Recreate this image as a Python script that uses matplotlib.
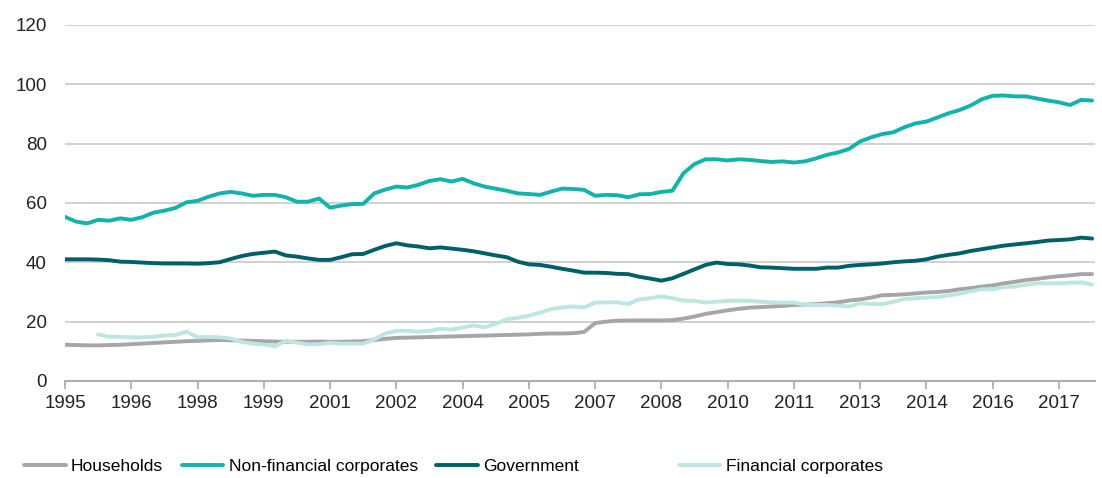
import matplotlib
matplotlib.use("Agg")
import matplotlib.pyplot as plt

plt.rcParams['font.family'] = ['Liberation Sans', 'DejaVu Sans']

# quarterly data, 1995Q1 - 2018Q2
households = [12.2, 12.1, 12.0, 12.0, 12.1, 12.2, 12.4, 12.6, 12.8, 13.0,
              13.2, 13.4, 13.5, 13.7, 13.8, 13.7, 13.6, 13.5, 13.4, 13.3,
              13.2, 13.2, 13.2, 13.3, 13.2, 13.2, 13.3, 13.4, 13.8, 14.2,
              14.5, 14.6, 14.7, 14.8, 14.9, 15.0, 15.1, 15.2, 15.3, 15.4,
              15.5, 15.6, 15.7, 15.9, 16.0, 16.0, 16.1, 16.5, 19.5, 20.0,
              20.3, 20.4, 20.4, 20.4, 20.4, 20.5, 21.0, 21.7, 22.6, 23.2,
              23.8, 24.3, 24.7, 24.9, 25.1, 25.3, 25.6, 25.7, 25.9, 26.2,
              26.5, 27.1, 27.5, 28.1, 28.9, 29.0, 29.2, 29.5, 29.8, 30.0,
              30.3, 30.9, 31.3, 31.8, 32.2, 32.9, 33.4, 34.0, 34.4, 34.9,
              35.3, 35.6, 36.0, 36.0]
non_financial = [55.3, 53.7, 53.1, 54.3, 54.0, 54.8, 54.3, 55.2, 56.7, 57.4,
                 58.3, 60.2, 60.7, 62.1, 63.2, 63.7, 63.2, 62.4, 62.7, 62.7,
                 61.9, 60.4, 60.4, 61.5, 58.4, 59.1, 59.6, 59.7, 63.2, 64.5,
                 65.5, 65.2, 66.1, 67.4, 68.0, 67.2, 68.1, 66.6, 65.5, 64.8,
                 64.1, 63.2, 63.0, 62.7, 63.8, 64.8, 64.7, 64.4, 62.4, 62.7,
                 62.6, 61.9, 62.9, 63.0, 63.7, 64.1, 70.0, 73.1, 74.7, 74.7,
                 74.3, 74.7, 74.5, 74.1, 73.8, 74.0, 73.6, 74.0, 75.0, 76.2,
                 77.0, 78.2, 80.7, 82.1, 83.2, 83.8, 85.5, 86.8, 87.4, 88.8,
                 90.2, 91.3, 92.8, 94.9, 96.1, 96.2, 95.9, 95.9, 95.2, 94.5,
                 93.9, 93.0, 94.7, 94.5]
government = [41.0, 41.0, 41.0, 40.9, 40.7, 40.2, 40.1, 39.9, 39.7, 39.6,
              39.6, 39.6, 39.5, 39.7, 40.0, 41.1, 42.1, 42.8, 43.2, 43.6,
              42.3, 41.9, 41.3, 40.8, 40.8, 41.7, 42.7, 42.8, 44.2, 45.5,
              46.4, 45.7, 45.3, 44.7, 45.0, 44.6, 44.2, 43.7, 43.0, 42.3,
              41.7, 40.2, 39.3, 39.1, 38.5, 37.8, 37.2, 36.5, 36.5, 36.4,
              36.1, 36.0, 35.1, 34.5, 33.8, 34.6, 36.1, 37.6, 39.1, 39.9,
              39.4, 39.3, 38.9, 38.3, 38.2, 38.0, 37.8, 37.8, 37.8, 38.2,
              38.2, 38.8, 39.1, 39.3, 39.6, 40.0, 40.3, 40.5, 41.0, 41.9,
              42.5, 43.0, 43.8, 44.4, 45.0, 45.6, 46.0, 46.4, 46.8, 47.3,
              47.5, 47.7, 48.3, 48.0]
financial = [None, None, None, 15.7, 14.9, 14.9, 14.7, 14.7, 14.9, 15.3,
             15.5, 16.6, 14.7, 14.9, 14.7, 14.3, 13.2, 12.6, 12.3, 11.7,
             13.5, 12.9, 12.3, 12.4, 12.9, 12.6, 12.6, 12.6, 14.0, 16.0,
             16.9, 16.9, 16.6, 16.9, 17.6, 17.3, 18.0, 18.7, 18.1, 19.2,
             20.8, 21.3, 22.0, 23.0, 24.2, 24.8, 25.1, 24.8, 26.4, 26.5,
             26.5, 25.9, 27.5, 27.9, 28.5, 27.9, 27.1, 27.0, 26.4, 26.7,
             27.0, 27.1, 27.0, 26.7, 26.5, 26.4, 26.4, 25.6, 25.6, 25.6,
             25.4, 25.1, 26.2, 25.9, 25.9, 26.7, 27.6, 27.9, 28.1, 28.3,
             28.8, 29.4, 30.2, 30.9, 30.9, 31.6, 31.8, 32.4, 32.9, 32.9,
             32.9, 33.1, 33.2, 32.5]

x = list(range(len(households)))
fin = [float('nan') if v is None else v for v in financial]

fig = plt.figure(figsize=(11.02, 4.78), dpi=100)
ax = fig.add_axes([0.059, 0.203, 0.935, 0.745])

lines = []
lines += ax.plot(x, households, color='#a6a6a6', lw=2.8, label='Households', solid_capstyle='round')
lines += ax.plot(x, non_financial, color='#12b3ab', lw=2.8, label='Non-financial corporates', solid_capstyle='round')
lines += ax.plot(x, government, color='#005f69', lw=2.8, label='Government', solid_capstyle='round')
lines += ax.plot(x, fin, color='#bde5e1', lw=2.8, label='Financial corporates', solid_capstyle='round')

ax.set_ylim(0, 120)
ax.set_xlim(0, 93.3)
ax.set_yticks(range(0, 121, 20))
ticks = list(range(0, 91, 6))
ax.set_xticks(ticks)
ax.set_xticklabels([str(1995 + t // 4) for t in ticks])

ax.grid(axis='y', color='#c8c8c8', lw=1.2)
ax.set_axisbelow(True)
for s in ['left', 'right', 'top']:
    ax.spines[s].set_visible(False)
ax.spines['bottom'].set_color('#b0b0b0')
ax.spines['bottom'].set_linewidth(1.5)
ax.tick_params(axis='x', colors='#b0b0b0', length=6, width=1.3, labelcolor='#222222', labelsize=13.5, pad=4)
ax.tick_params(axis='y', length=0, labelcolor='#222222', labelsize=13.5, pad=13)

# one legend per entry so the columns sit where they do in the original
legend_x = [0.022, 0.165, 0.396, 0.616]
for ln, lx in zip(lines, legend_x):
    fig.legend(handles=[ln], loc='center left', bbox_to_anchor=(lx, 0.025), frameon=False,
               fontsize=12.5, handlelength=2.4, handletextpad=0.3, borderpad=0, borderaxespad=0)

fig.savefig('out.png', dpi=100)
